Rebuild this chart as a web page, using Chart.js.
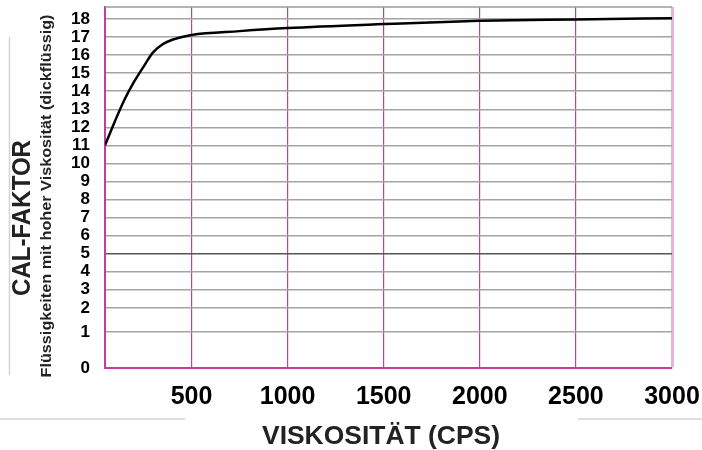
<!DOCTYPE html>
<html>
<head>
<meta charset="utf-8">
<script src="https://cdn.jsdelivr.net/npm/chart.js@4"></script>
<style>
  html, body { margin: 0; padding: 0; background: #fff; }
  #wrap { width: 702px; height: 450px; }
</style>
</head>
<body>
<div id="wrap"><canvas id="calChart" width="702" height="450"></canvas></div>
<script>
// Werte
const viskositaet = [50, 100, 150, 200, 250, 300, 350, 400, 450, 500, 750, 1000, 1500, 2000, 2500, 3000];
const calFaktor = [11, 12.3, 13.5, 14.5, 15.35, 16.15, 16.6, 16.85, 17.0, 17.12, 17.33, 17.5, 17.72, 17.9, 17.98, 18.05];
const xTicks = [500, 1000, 1500, 2000, 2500, 3000];
const yTicks = [0, 1, 2, 3, 4, 5, 6, 7, 8, 9, 10, 11, 12, 13, 14, 15, 16, 17, 18];

const FONT = '"Liberation Sans", Arial, Helvetica, sans-serif';

// Die Y-Achse ist unten gestaucht: 0-1 und 1-2 haben grössere Abstände
function warp(v) {
    if (v >= 2) return v + 4 / 3;
    if (v >= 1) return 2 + (v - 1) * 4 / 3;
    return 2 * v;
}
function unwarp(p) {
    if (p >= 10 / 3) return p - 4 / 3;
    if (p >= 2) return 1 + (p - 2) * 3 / 4;
    return p / 2;
}

// lineare Achse ohne automatischen Rand für die Beschriftung
class FixedLinear extends Chart.LinearScale {
    static id = 'fixedLinear';
    static defaults = Chart.LinearScale.defaults;
    getPadding() {
        return { left: 0, top: 0, right: 0, bottom: 0 };
    }
}

class WarpScale extends FixedLinear {
    static id = 'warp';
    static defaults = Chart.LinearScale.defaults;
    getPixelForValue(value) {
        return this.getPixelForDecimal((warp(value) - warp(this.min)) / (warp(this.max) - warp(this.min)));
    }
    getValueForPixel(pixel) {
        const d = this.getDecimalForPixel(pixel);
        return unwarp(warp(this.min) + d * (warp(this.max) - warp(this.min)));
    }
}
Chart.register(FixedLinear, WarpScale);

// Texte direkt auf die Leinwand schreiben (gedreht und auf Breite gestreckt)
function fitText(ctx, text, cx, cy, font, width, rot, color) {
    ctx.save();
    ctx.font = font;
    ctx.fillStyle = color;
    ctx.textAlign = 'center';
    ctx.textBaseline = 'middle';
    ctx.translate(cx, cy);
    ctx.rotate(rot);
    const w = ctx.measureText(text).width;
    ctx.scale(width / w, 1);
    ctx.fillText(text, 0, 0);
    ctx.restore();
}

const deko = {
    id: 'deko',
    afterDraw(chart) {
        const ctx = chart.ctx;
        const a = chart.chartArea;
        ctx.save();
        // obere Rahmenlinie
        ctx.strokeStyle = '#9a9a9a';
        ctx.lineWidth = 1.5;
        ctx.beginPath();
        ctx.moveTo(a.left, a.top);
        ctx.lineTo(a.right, a.top);
        ctx.stroke();
        // graue Trennlinien
        ctx.strokeStyle = '#d4d4d4';
        ctx.lineWidth = 1.5;
        ctx.beginPath();
        ctx.moveTo(9.5, 37);
        ctx.lineTo(9.5, 375);
        ctx.moveTo(0, 419);
        ctx.lineTo(185, 419);
        ctx.moveTo(578, 419);
        ctx.lineTo(702, 419);
        ctx.stroke();
        ctx.restore();

        fitText(ctx, 'CAL-FAKTOR', 23, 218, 'bold 25px ' + FONT, 156, -Math.PI / 2, '#222');
        fitText(ctx, 'Flüssigkeiten mit hoher Viskosität (dickflüssig)', 47, 196, 'bold 14px ' + FONT, 363, -Math.PI / 2, '#222');
        fitText(ctx, 'VISKOSITÄT (CPS)', 381, 437, 'bold 25px ' + FONT, 238, 0, '#222');
    }
};

const ctx = document.getElementById('calChart').getContext('2d');
new Chart(ctx, {
    type: 'line',
    data: {
        datasets: [{
            data: viskositaet.map((v, i) => ({ x: v, y: calFaktor[i] })),
            borderColor: '#000',
            borderWidth: 2.5,
            pointRadius: 0,
            cubicInterpolationMode: 'monotone',
            fill: false
        }]
    },
    options: {
        responsive: false,
        animation: false,
        layout: { padding: { left: 0, top: 7, right: 30, bottom: 0 } },
        plugins: {
            legend: { display: false },
            tooltip: { enabled: false }
        },
        scales: {
            x: {
                type: 'fixedLinear',
                min: 50,
                max: 3000,
                afterBuildTicks: s => { s.ticks = xTicks.map(v => ({ value: v })); },
                afterFit: s => { s.height = 82; },
                grid: {
                    drawTicks: false,
                    color: c => c.tick && c.tick.value === 3000 ? '#e9b2dc' : '#b04a9a',
                    lineWidth: c => c.tick && c.tick.value === 3000 ? 3 : 1.2
                },
                border: { color: '#c43c9c', width: 2 },
                ticks: {
                    autoSkip: false,
                    maxRotation: 0,
                    padding: 14,
                    color: '#000',
                    font: { family: FONT, size: 25, weight: 'bold' },
                    callback: v => String(v)
                }
            },
            y: {
                type: 'warp',
                min: 0,
                max: 18 + 2 / 3,
                afterBuildTicks: s => { s.ticks = yTicks.map(v => ({ value: v })); },
                afterFit: s => { s.width = 105; },
                grid: {
                    drawTicks: false,
                    color: c => {
                        if (!c.tick || c.tick.value === 0) return 'rgba(0,0,0,0)';
                        return c.tick.value === 5 ? '#555' : '#a4a4a4';
                    },
                    lineWidth: 1.5
                },
                border: { color: '#c43c9c', width: 2 },
                ticks: {
                    autoSkip: false,
                    padding: 15,
                    color: '#000',
                    font: { family: FONT, size: 17, weight: 'bold' },
                    callback: v => String(v)
                }
            }
        }
    },
    plugins: [deko]
});
</script>
</body>
</html>
